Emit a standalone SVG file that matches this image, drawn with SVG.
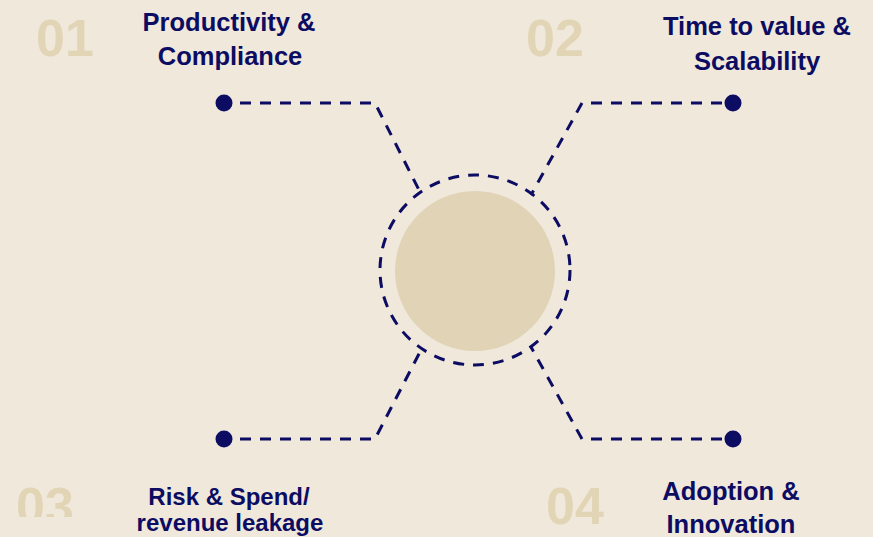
<svg xmlns="http://www.w3.org/2000/svg" width="873" height="537" viewBox="0 0 873 537">
  <style>
    .num { font-family: "Liberation Sans", Arial, sans-serif; font-weight: bold; font-size: 52px; fill: #e2d5b6; }
    .lbl { font-family: "Liberation Sans", Arial, sans-serif; font-weight: bold; font-size: 25.5px; fill: #0c0c62; text-anchor: middle; }
    .lbl-s { font-size: 24px; }
    .conn { fill: none; stroke: #0c0c62; stroke-width: 3; stroke-dasharray: 11 9; }
    .dot { fill: #0c0c62; }
  </style>
  <defs>
    <clipPath id="clip03">
      <rect x="0" y="470" width="120" height="47"/>
    </clipPath>
  </defs>
  <rect width="873" height="537" fill="#f0e8db"/>

  <g id="center">
    <circle cx="475" cy="271" r="80" fill="#e0d3b6"/>
    <circle cx="475" cy="270" r="95" class="conn"/>
  </g>

  <g id="connectors">
    <path class="conn" d="M240 103 H375 L421 194"/>
    <path class="conn" d="M722 103 H582 L531 195"/>
    <path class="conn" d="M240 439 H375 L422 348"/>
    <path class="conn" d="M722 439 H582 L531 347"/>
  </g>

  <g id="node-01">
    <text class="num" x="36" y="56">01</text>
    <circle class="dot" cx="224" cy="103" r="8.5"/>
    <text class="lbl" x="229" y="31">Productivity &amp;</text>
    <text class="lbl" x="230" y="65">Compliance</text>
  </g>

  <g id="node-02">
    <text class="num" x="526" y="56">02</text>
    <circle class="dot" cx="733" cy="103" r="8.5"/>
    <text class="lbl" x="757" y="35">Time to value &amp;</text>
    <text class="lbl" x="757" y="70">Scalability</text>
  </g>

  <g id="node-03">
    <text class="num" x="16" y="524" clip-path="url(#clip03)">03</text>
    <circle class="dot" cx="224" cy="439" r="8.5"/>
    <text class="lbl lbl-s" x="229" y="505">Risk &amp; Spend/</text>
    <text class="lbl lbl-s" x="230" y="531">revenue leakage</text>
  </g>

  <g id="node-04">
    <text class="num" x="546" y="524">04</text>
    <circle class="dot" cx="733" cy="439" r="8.5"/>
    <text class="lbl" x="731" y="500">Adoption &amp;</text>
    <text class="lbl" x="731" y="533">Innovation</text>
  </g>
</svg>
